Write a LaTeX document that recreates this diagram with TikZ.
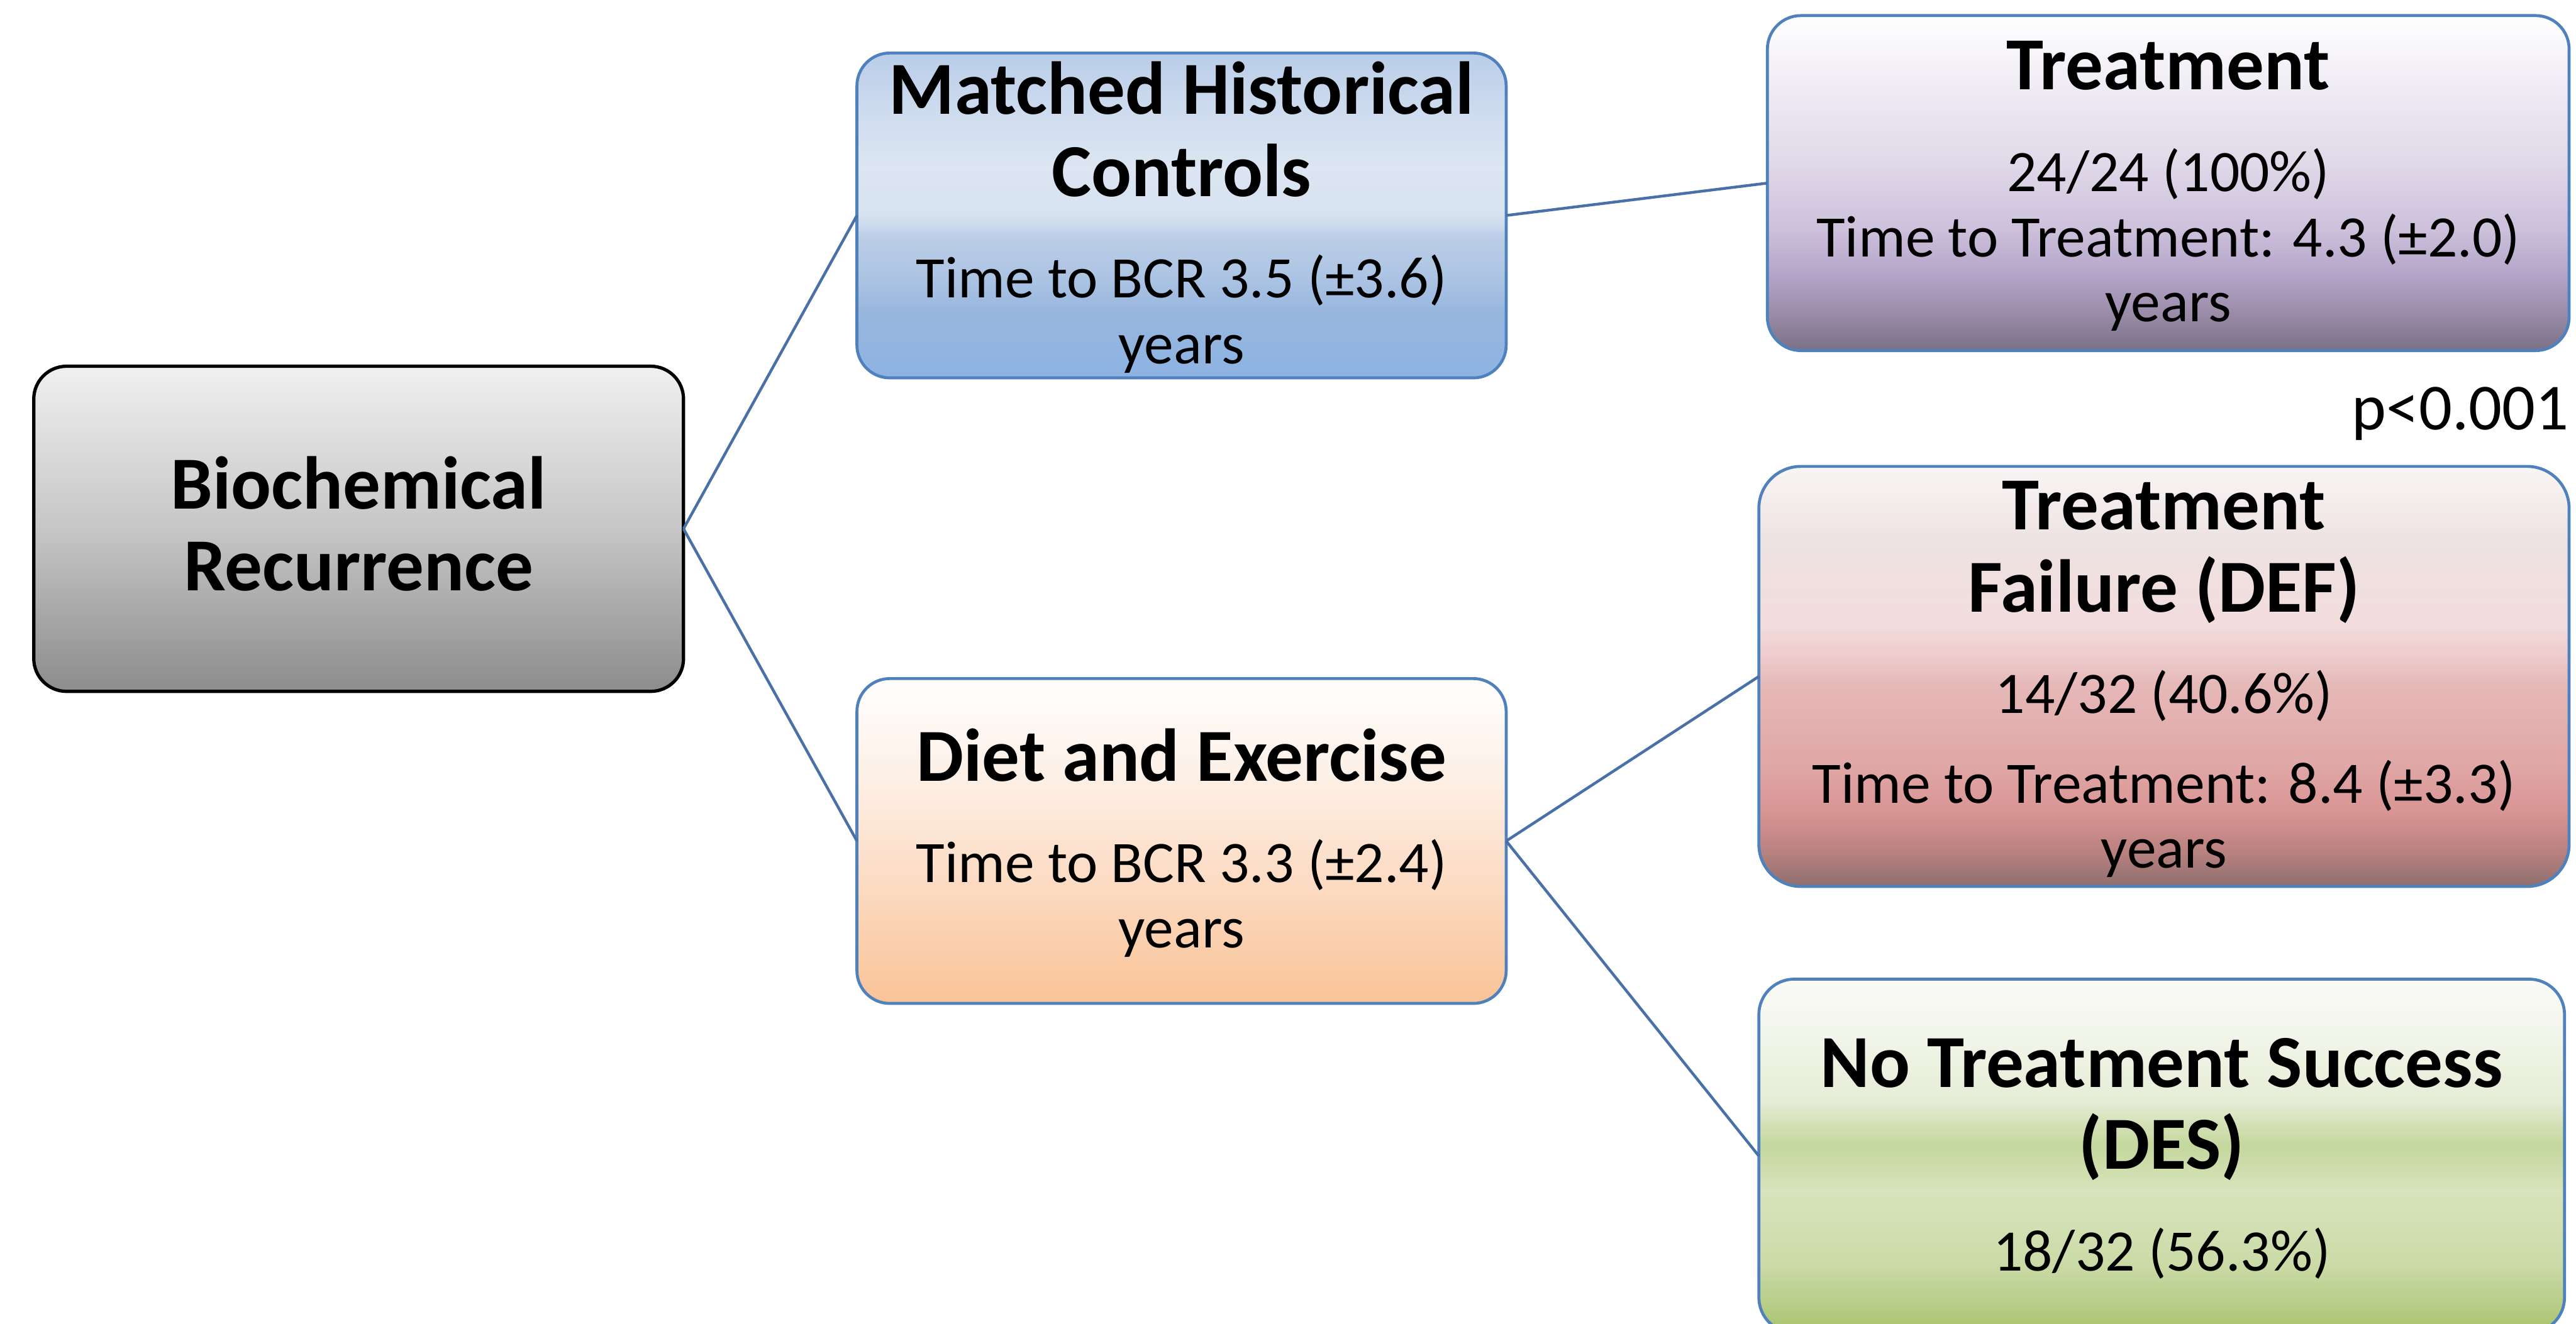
\documentclass[tikz,border=0pt]{standalone}
\usepackage{fontspec}
\setmainfont{Carlito}
% colours
\definecolor{lineblue}{HTML}{4A70A8}
\definecolor{boxblue}{HTML}{4F81BD}
\definecolor{aA}{HTML}{F0F0F0}\definecolor{aB}{HTML}{C6C6C6}\definecolor{aC}{HTML}{8C8C8C}
\definecolor{bA}{HTML}{B9CDE8}\definecolor{bB}{HTML}{D0DDEF}\definecolor{bC}{HTML}{DCE6F2}\definecolor{bD}{HTML}{D7E2F0}
\definecolor{bE}{HTML}{BACDE6}\definecolor{bF}{HTML}{ABC3E3}\definecolor{bG}{HTML}{97B6DE}\definecolor{bH}{HTML}{8DB3E2}
\definecolor{cA}{HTML}{FFFFFF}\definecolor{cB}{HTML}{FDF0E6}\definecolor{cC}{HTML}{FCDDC6}\definecolor{cD}{HTML}{F9C397}
\definecolor{dA}{HTML}{FFFFFF}\definecolor{dB}{HTML}{EEEAF3}\definecolor{dC}{HTML}{E0D9E9}\definecolor{dD}{HTML}{CCC0DB}
\definecolor{dE}{HTML}{B3A3C8}\definecolor{dF}{HTML}{9A8CA8}\definecolor{dG}{HTML}{7A7085}
\definecolor{eA}{HTML}{F9F5F5}\definecolor{eB}{HTML}{EEE2E2}\definecolor{eC}{HTML}{F2DCDC}\definecolor{eD}{HTML}{EDCCCC}
\definecolor{eE}{HTML}{E6B8B8}\definecolor{eF}{HTML}{DFA6A5}\definecolor{eG}{HTML}{D99594}\definecolor{eH}{HTML}{B7817F}\definecolor{eI}{HTML}{8E6F6E}
\definecolor{fA}{HTML}{FAFBF7}\definecolor{fB}{HTML}{F3F6EC}\definecolor{fC}{HTML}{E6EDD6}\definecolor{fD}{HTML}{C4D79D}
\definecolor{fE}{HTML}{D7E4BC}\definecolor{fF}{HTML}{CBDBA8}\definecolor{fG}{HTML}{B5CC85}\definecolor{fH}{HTML}{A6C26A}
% shadings (box spans 25bp..75bp, top = 75bp)
\pgfdeclareverticalshading{shA}{100bp}{color(0bp)=(aC); color(25bp)=(aC); color(50bp)=(aB); color(75bp)=(aA); color(100bp)=(aA)}
\pgfdeclareverticalshading{shB}{100bp}{color(0bp)=(bH); color(25bp)=(bH); color(35bp)=(bG); color(40bp)=(bF); color(46.5bp)=(bE); color(50bp)=(bD); color(57.5bp)=(bC); color(65bp)=(bB); color(75bp)=(bA); color(100bp)=(bA)}
\pgfdeclareverticalshading{shC}{100bp}{color(0bp)=(cD); color(25bp)=(cD); color(45bp)=(cC); color(60bp)=(cB); color(75bp)=(cA); color(100bp)=(cA)}
\pgfdeclareverticalshading{shD}{100bp}{color(0bp)=(dG); color(25bp)=(dG); color(30.5bp)=(dF); color(36bp)=(dE); color(43bp)=(dD); color(53bp)=(dC); color(63.5bp)=(dB); color(75bp)=(dA); color(100bp)=(dA)}
\pgfdeclareverticalshading{shE}{100bp}{color(0bp)=(eI); color(25bp)=(eI); color(29bp)=(eH); color(34bp)=(eG); color(39bp)=(eF); color(49bp)=(eE); color(52.5bp)=(eD); color(56bp)=(eC); color(66bp)=(eB); color(75bp)=(eA); color(100bp)=(eA)}
\pgfdeclareverticalshading{shF}{100bp}{color(0bp)=(fH); color(25bp)=(fH); color(28.5bp)=(fG); color(35bp)=(fF); color(45bp)=(fE); color(51.5bp)=(fD); color(58bp)=(fC); color(68bp)=(fB); color(75bp)=(fA); color(100bp)=(fA)}
\begin{document}
\begin{tikzpicture}[x=0.5pt,y=-0.5pt,
  box/.style={rectangle, outer sep=0pt, inner sep=0pt, draw=boxblue, line width=0.9pt},
  ttl/.style={anchor=base, inner sep=0pt, font=\bfseries\fontsize{22.8}{27}\selectfont},
  bdy/.style={anchor=base, inner sep=0pt, font=\fontsize{17.9}{21}\selectfont},
  conn/.style={draw=lineblue, line width=0.85pt}]
\useasboundingbox (0,0) rectangle (1568,806);
\clip (0,0) rectangle (1568,806);
\fill[white] (0,0) rectangle (1568,806);
% boxes
\node[box, draw=black, line width=1pt, shading=shA, rounded corners=10pt, minimum width=197.75pt, minimum height=99pt] (bcr) at (218.3,322) {};
\node[box, shading=shB, rounded corners=10pt, minimum width=197.6pt, minimum height=98.9pt] (mhc) at (719.2,131.2) {};
\node[box, shading=shC, rounded corners=10pt, minimum width=197.6pt, minimum height=98.9pt] (dex) at (719.2,512.1) {};
\node[box, shading=shD, rounded corners=10.2pt, minimum width=244pt, minimum height=102pt] (trt) at (1319.8,111.5) {};
\node[box, shading=shE, rounded corners=12.8pt, minimum width=246.6pt, minimum height=127.9pt] (def) at (1317.2,411.9) {};
\node[box, shading=shF, rounded corners=10.8pt, minimum width=245.2pt, minimum height=107.7pt] (des) at (1315.8,703.9) {};
% connectors
\draw[conn] (bcr.east) -- (mhc.west);
\draw[conn] (bcr.east) -- (dex.west);
\draw[conn] (mhc.east) -- (trt.west);
\draw[conn] (dex.east) -- (def.west);
\draw[conn] (dex.east) -- (des.west);
% texts
\node[ttl] (bcr1) at (218.3,309.7) {Biochemical};
\node[ttl] (bcr2) at (218.3,359.8) {Recurrence};
\node[ttl] (mhc1) at (719.2,69.4) {Matched Historical};
\node[ttl] (mhc2) at (719.2,119.6) {Controls};
\node[bdy] (mhc3) at (719.2,181.3) {Time to BCR 3.5 (±3.6)};
\node[bdy] (mhc4) at (719.2,221.3) {years};
\node[ttl] (dex1) at (719.2,475.6) {Diet and Exercise};
\node[bdy] (dex2) at (719.2,537.3) {Time to BCR 3.3 (±2.4)};
\node[bdy] (dex3) at (719.2,576.9) {years};
\node[ttl] (trt1) at (1319.8,54.7) {Treatment};
\node[bdy] (trt2) at (1319.8,116.7) {24/24 (100\%)};
\node[bdy] (trt3) at (1319.8,156.2) {Time to Treatment: 4.3 (±2.0)};
\node[bdy] (trt4) at (1319.8,195.9) {years};
\node[ttl] (def1) at (1317.2,322.6) {Treatment};
\node[ttl] (def2) at (1317.2,372.7) {Failure (DEF)};
\node[bdy] (def3) at (1317.2,434.4) {14/32 (40.6\%)};
\node[bdy] (def4) at (1317.2,489.1) {Time to Treatment: 8.4 (±3.3)};
\node[bdy] (def5) at (1317.2,528.6) {years};
\node[ttl] (des1) at (1315.8,661.9) {No Treatment Success};
\node[ttl] (des2) at (1315.8,711.9) {(DES)};
\node[bdy] (des3) at (1315.8,773.7) {18/32 (56.3\%)};
\node[anchor=base east, inner sep=0pt, font=\fontsize{20}{24}\selectfont] (pval) at (1564,261.5) {p<0.001};
\end{tikzpicture}
\end{document}
